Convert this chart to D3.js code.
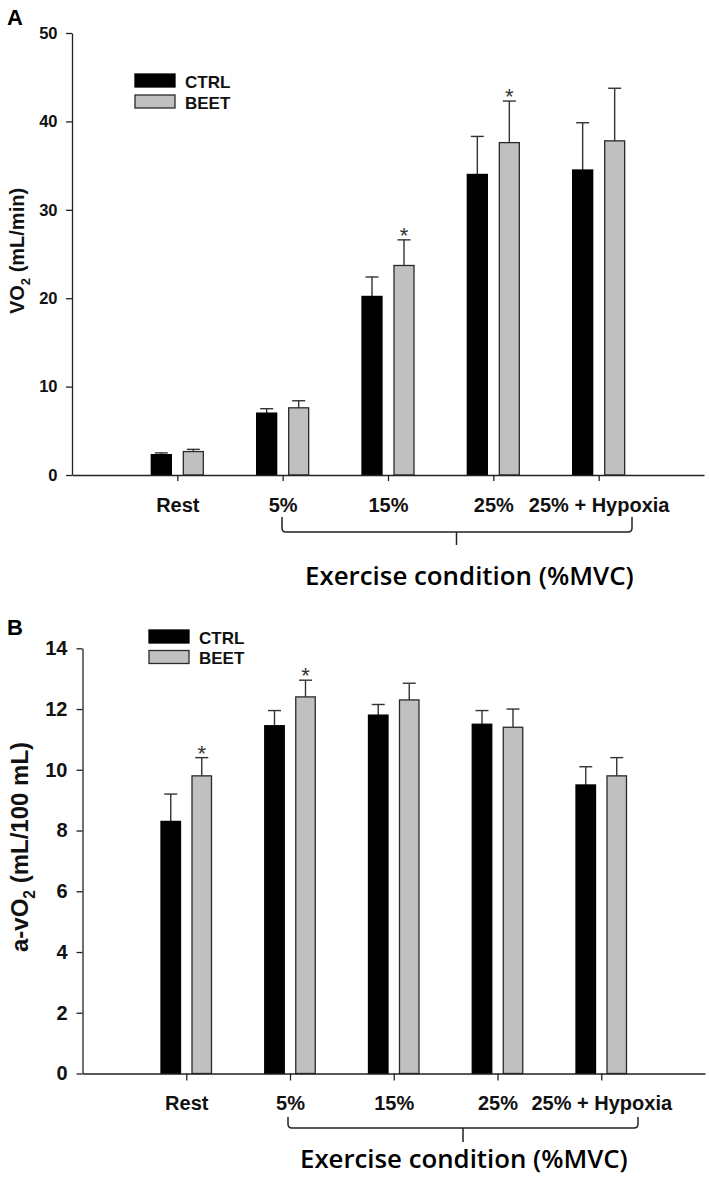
<!DOCTYPE html>
<html><head><meta charset="utf-8">
<script src="https://cdn.jsdelivr.net/npm/d3@7"></script>
<style>
body{margin:0;background:#fff}
svg{display:block}
text{font-family:Arial,"Liberation Sans",sans-serif;fill:#111}
</style></head>
<body>
<script>
// ---------------- data ----------------
const categories = ["Rest", "5%", "15%", "25%", "25% + Hypoxia"];
const groups = ["CTRL", "BEET"];

// Panel A: VO2 (mL/min)
const vo2Ticks = [0, 10, 20, 30, 40, 50];
const vo2Ctrl = [2.3, 7.0, 20.2, 34.0, 34.5];
const vo2CtrlErr = [0.2, 0.5, 2.2, 4.3, 5.35];
const vo2Beet = [2.65, 7.6, 23.7, 37.6, 37.8];
const vo2BeetErr = [0.25, 0.8, 2.9, 4.7, 5.95];
const vo2BeetSig = [false, false, true, true, false];

// Panel B: a-vO2 (mL/100 mL)
const avo2Ticks = [0, 2, 4, 6, 8, 10, 12, 14];
const avo2Ctrl = [8.3, 11.45, 11.8, 11.5, 9.5];
const avo2CtrlErr = [0.9, 0.5, 0.35, 0.45, 0.6];
const avo2Beet = [9.8, 12.4, 12.3, 11.4, 9.8];
const avo2BeetErr = [0.6, 0.55, 0.55, 0.6, 0.6];
const avo2BeetSig = [true, true, false, false, false];

const xAxisTitle = "Exercise condition (%MVC)";

// ---------------- drawing ----------------
const svg = d3.select("body").append("svg").attr("width", 709).attr("height", 1179);

function drawPanel(p) {
  const g = svg.append("g");
  const x = d3.scaleLinear().domain([-1, categories.length]).range(p.xRange);
  const y = d3.scaleLinear().domain([0, d3.max(p.ticks)]).range(p.yRange);
  const sub = d3.scalePoint().domain(groups).range([-p.off, p.off]);

  const rows = [];
  categories.forEach((c, i) => {
    rows.push({i, grp: "CTRL", v: p.ctrl[i], e: p.ctrlErr[i], sig: false});
    rows.push({i, grp: "BEET", v: p.beet[i], e: p.beetErr[i], sig: p.sig[i]});
  });

  // error bars (upper only)
  const eb = g.append("g").attr("stroke", "#333").attr("stroke-width", 1.4);
  eb.selectAll("line.v").data(rows).join("line")
    .attr("x1", d => x(d.i) + sub(d.grp)).attr("x2", d => x(d.i) + sub(d.grp))
    .attr("y1", d => y(d.v)).attr("y2", d => y(d.v + d.e));
  eb.selectAll("line.c").data(rows).join("line")
    .attr("x1", d => x(d.i) + sub(d.grp) - 6.5).attr("x2", d => x(d.i) + sub(d.grp) + 6.5)
    .attr("y1", d => y(d.v + d.e)).attr("y2", d => y(d.v + d.e));

  // bars
  g.append("g").selectAll("rect").data(rows).join("rect")
    .attr("x", d => x(d.i) + sub(d.grp) - p.bw / 2)
    .attr("width", p.bw)
    .attr("y", d => y(d.v))
    .attr("height", d => y(0) - y(d.v))
    .attr("fill", d => d.grp === "CTRL" ? "#000" : "#c0c0c0")
    .attr("stroke", d => d.grp === "CTRL" ? "#000" : "#2a2a2a")
    .attr("stroke-width", 1.3);

  // significance stars
  g.append("g").selectAll("text").data(rows.filter(d => d.sig)).join("text")
    .attr("x", d => x(d.i) + sub(d.grp))
    .attr("y", d => y(d.v + d.e) + 3)
    .attr("text-anchor", "middle")
    .style("font-size", "22px").style("fill", "#333")
    .text("*");

  // y axis
  const ya = g.append("g").attr("transform", `translate(${p.xRange[0]},0)`)
    .call(d3.axisLeft(y).tickValues(p.ticks).tickFormat(d3.format("d"))
      .tickSize(6).tickSizeOuter(0).tickPadding(p.yPad));
  ya.selectAll("text").style("font-size", p.yFont + "px").style("font-weight", "bold").style("fill", "#111")
    .style("font-family", "Arial, 'Liberation Sans', sans-serif");

  // x axis
  const xa = g.append("g").attr("transform", `translate(0,${p.yRange[0]})`)
    .call(d3.axisBottom(x).tickValues(d3.range(categories.length)).tickFormat(i => categories[i])
      .tickSize(p.xTick).tickSizeOuter(0).tickPadding(p.xPad));
  xa.selectAll("text").style("font-size", "20px").style("font-weight", "bold").style("fill", "#111")
    .style("font-family", "Arial, 'Liberation Sans', sans-serif");

  [ya, xa].forEach(a => {
    a.select(".domain").attr("stroke", "#222").attr("stroke-width", 1.3);
    a.selectAll(".tick line").attr("stroke", "#222").attr("stroke-width", 1.3);
  });

  // legend
  const lg = g.append("g");
  groups.forEach((grp, k) => {
    lg.append("rect").attr("x", p.legX).attr("y", p.legY + k * p.legStep)
      .attr("width", 40).attr("height", 13)
      .attr("fill", grp === "CTRL" ? "#000" : "#c0c0c0")
      .attr("stroke", grp === "CTRL" ? "#000" : "#2a2a2a").attr("stroke-width", 1.3);
    lg.append("text").attr("x", p.legX + 50).attr("y", p.legY + k * p.legStep + 13.5)
      .style("font-size", "17px").style("font-weight", "bold").text(grp);
  });

  // panel letter
  g.append("text").attr("x", 7).attr("y", p.letterY).style("font-size", "22px")
    .style("font-weight", "bold").style("fill", "#000").text(p.letter);

  // y title
  const yt = g.append("text").attr("transform", `translate(${p.yTitleX},${p.yTitleY}) rotate(-90)`)
    .attr("text-anchor", "middle").style("font-size", p.yTitleFont + "px").style("font-weight", "bold");
  yt.append("tspan").text(p.yTitle[0]);
  yt.append("tspan").attr("dy", p.yTitleFont * 0.3).style("font-size", (p.yTitleFont * 0.65) + "px").text(p.yTitle[1]);
  yt.append("tspan").attr("dy", -p.yTitleFont * 0.3).text(p.yTitle[2]);

  // bracket under exercise conditions
  const bl = p.brL, br = p.brR, bt = p.brTop, bh = p.brY, bm = p.brMid, bd = p.brDown, r = 4;
  g.append("path")
    .attr("d", `M${bl},${bt} V${bh - r} Q${bl},${bh} ${bl + r},${bh} H${br - r} Q${br},${bh} ${br},${bh - r} V${bt} M${bm},${bh} V${bd}`)
    .attr("fill", "none").attr("stroke", "#222").attr("stroke-width", 1.5);

  // x title
  const t = g.append("text").attr("x", p.titleX).attr("y", p.titleY)
    .style("font-family", "'Open Sans', 'Noto Sans', sans-serif").style("font-weight", 600)
    .style("font-size", "24px").style("fill", "#000").text(xAxisTitle);
  const w = t.node().getComputedTextLength();
  t.style("font-size", (24 * p.titleW / w) + "px");
}

drawPanel({
  letter: "A", letterY: 25,
  ctrl: vo2Ctrl, ctrlErr: vo2CtrlErr, beet: vo2Beet, beetErr: vo2BeetErr, sig: vo2BeetSig,
  ticks: vo2Ticks, xRange: [72, 704], yRange: [475, 33], off: 16, bw: 20,
  yPad: 8.5, yFont: 16.5, xTick: 6, xPad: 16.8,
  legX: 135, legY: 74, legStep: 21,
  yTitle: ["VO", "2", " (mL/min)"], yTitleX: 24, yTitleY: 251, yTitleFont: 20,
  brL: 282, brR: 632, brTop: 517, brY: 532, brMid: 456.5, brDown: 545,
  titleX: 305, titleY: 585, titleW: 329
});

drawPanel({
  letter: "B", letterY: 635,
  ctrl: avo2Ctrl, ctrlErr: avo2CtrlErr, beet: avo2Beet, beetErr: avo2BeetErr, sig: avo2BeetSig,
  ticks: avo2Ticks, xRange: [82.5, 705], yRange: [1073.5, 648.3], off: 15.5, bw: 19.5,
  yPad: 9, yFont: 20, xTick: 7, xPad: 15,
  legX: 149, legY: 630, legStep: 20.5,
  yTitle: ["a-vO", "2", " (mL/100 mL)"], yTitleX: 28, yTitleY: 847, yTitleFont: 24,
  brL: 288, brR: 638, brTop: 1117, brY: 1128, brMid: 463, brDown: 1142,
  titleX: 300, titleY: 1168, titleW: 328
});
</script>
</body></html>
